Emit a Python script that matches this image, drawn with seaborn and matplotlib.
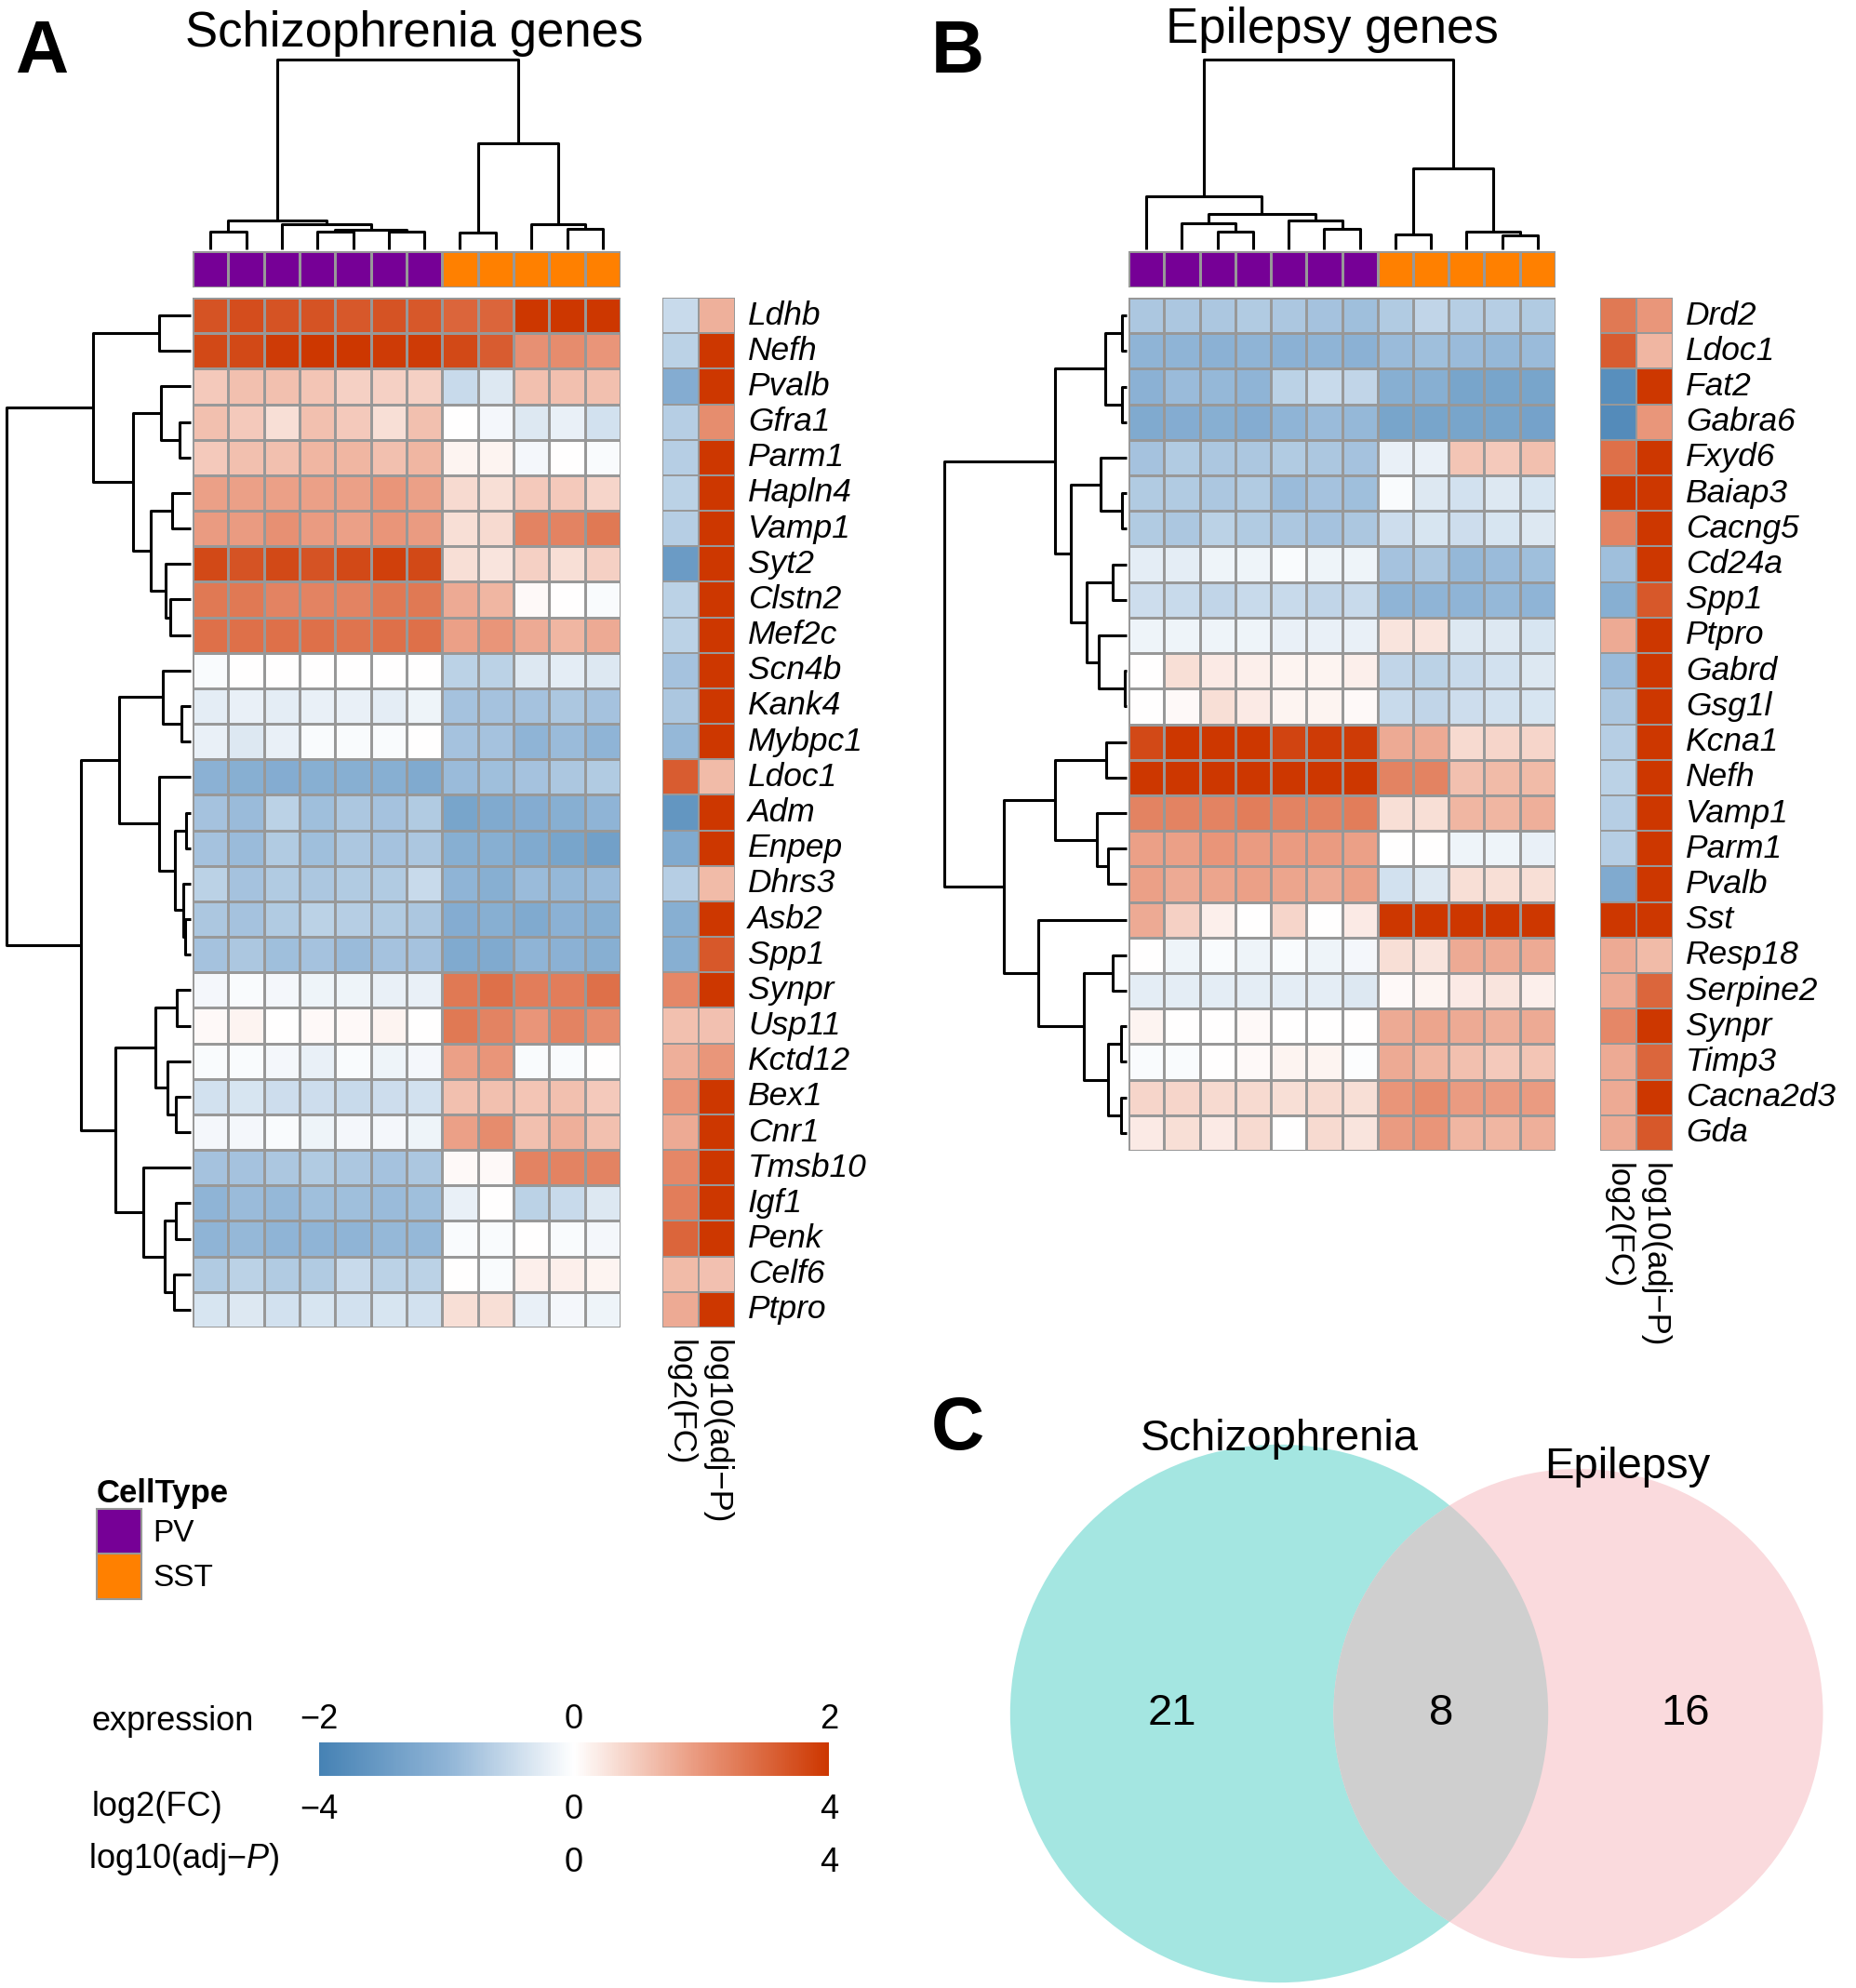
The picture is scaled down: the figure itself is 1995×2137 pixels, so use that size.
import numpy as np
import pandas as pd
import matplotlib
matplotlib.use("Agg")
import matplotlib.pyplot as plt
import matplotlib.cm as cm
import seaborn as sns
from matplotlib.colors import LinearSegmentedColormap, ListedColormap, Normalize
from matplotlib.patches import Circle, Patch

sns.set_theme(style="white")
plt.rcParams["font.family"] = ["Liberation Sans", "DejaVu Sans"]
plt.rcParams["mathtext.fontset"] = "custom"
plt.rcParams["mathtext.rm"] = "Liberation Sans"
plt.rcParams["mathtext.it"] = "Liberation Sans:italic"
plt.rcParams.update({"text.color": "black", "axes.labelcolor": "black",
                     "xtick.color": "black", "ytick.color": "black"})

# ---------------- data ----------------
cell_type = ["PV", "PV", "PV", "PV", "PV", "PV", "PV", "SST", "SST", "SST", "SST", "SST"]

scz_genes = ["Ldhb", "Nefh", "Pvalb", "Gfra1", "Parm1", "Hapln4", "Vamp1", "Syt2", "Clstn2",
             "Mef2c", "Scn4b", "Kank4", "Mybpc1", "Ldoc1", "Adm", "Enpep", "Dhrs3", "Asb2",
             "Spp1", "Synpr", "Usp11", "Kctd12", "Bex1", "Cnr1", "Tmsb10", "Igf1", "Penk",
             "Celf6", "Ptpro"]
scz_expr = [
    [1.7, 1.75, 1.7, 1.7, 1.65, 1.7, 1.65, 1.5, 1.5, 2.0, 2.0, 2.0],
    [1.8, 1.8, 1.95, 2.0, 2.0, 1.95, 1.95, 1.8, 1.6, 1.05, 1.1, 1.0],
    [0.5, 0.6, 0.6, 0.55, 0.45, 0.45, 0.45, -0.5, -0.3, 0.6, 0.6, 0.6],
    [0.6, 0.5, 0.3, 0.6, 0.5, 0.3, 0.6, 0.0, -0.1, -0.3, -0.2, -0.4],
    [0.5, 0.6, 0.6, 0.7, 0.7, 0.6, 0.7, 0.1, 0.1, -0.1, 0.0, -0.05],
    [0.9, 0.9, 0.9, 0.9, 0.9, 1.0, 0.9, 0.35, 0.3, 0.5, 0.5, 0.4],
    [0.95, 0.95, 1.05, 0.95, 0.9, 1.0, 0.95, 0.3, 0.35, 1.2, 1.2, 1.3],
    [1.8, 1.7, 1.8, 1.7, 1.8, 1.9, 1.8, 0.3, 0.25, 0.45, 0.3, 0.45],
    [1.3, 1.3, 1.2, 1.2, 1.2, 1.3, 1.3, 0.8, 0.7, 0.05, 0.0, -0.05],
    [1.4, 1.4, 1.4, 1.4, 1.35, 1.4, 1.4, 0.9, 1.0, 0.8, 0.7, 0.8],
    [-0.05, 0.0, 0.0, 0.0, 0.0, 0.0, 0.0, -0.6, -0.6, -0.3, -0.25, -0.3],
    [-0.25, -0.2, -0.25, -0.2, -0.2, -0.25, -0.15, -0.8, -0.8, -0.8, -0.75, -0.8],
    [-0.2, -0.3, -0.2, -0.05, -0.05, -0.05, 0.0, -0.8, -0.8, -1.0, -0.9, -1.0],
    [-1.05, -1.1, -1.15, -1.1, -1.1, -1.1, -1.2, -0.9, -0.85, -0.8, -0.75, -0.7],
    [-0.8, -0.9, -0.6, -0.85, -0.75, -0.8, -0.7, -1.3, -1.2, -1.15, -1.1, -1.0],
    [-0.8, -0.9, -0.7, -0.85, -0.75, -0.8, -0.75, -1.1, -1.1, -1.2, -1.3, -1.4],
    [-0.6, -0.8, -0.7, -0.75, -0.7, -0.7, -0.5, -1.0, -1.1, -0.9, -0.95, -0.9],
    [-0.75, -0.8, -0.7, -0.6, -0.65, -0.7, -0.75, -1.15, -1.1, -1.2, -1.05, -1.1],
    [-0.8, -0.75, -0.85, -0.8, -0.9, -0.8, -0.8, -1.2, -1.2, -1.0, -1.05, -1.1],
    [-0.1, -0.05, -0.1, -0.15, -0.15, -0.2, -0.2, 1.3, 1.4, 1.25, 1.25, 1.4],
    [0.05, 0.1, 0.0, 0.05, 0.05, 0.1, 0.0, 1.3, 1.2, 1.0, 1.2, 1.1],
    [-0.05, -0.05, -0.1, -0.2, -0.05, -0.15, -0.1, 0.9, 1.0, -0.05, -0.05, 0.0],
    [-0.4, -0.35, -0.45, -0.45, -0.5, -0.45, -0.4, 0.6, 0.6, 0.55, 0.6, 0.5],
    [-0.1, -0.1, -0.05, -0.15, -0.1, -0.1, -0.15, 0.9, 1.1, 0.6, 0.75, 0.6],
    [-0.8, -0.8, -0.75, -0.7, -0.75, -0.8, -0.75, 0.05, 0.05, 1.2, 1.2, 1.2],
    [-1.0, -0.9, -0.95, -0.85, -0.85, -0.9, -0.85, -0.2, 0.0, -0.6, -0.5, -0.3],
    [-1.0, -0.95, -1.0, -1.0, -1.0, -0.95, -0.95, -0.05, -0.05, 0.0, -0.05, -0.1],
    [-0.7, -0.6, -0.7, -0.7, -0.5, -0.6, -0.6, 0.0, -0.05, 0.15, 0.15, 0.1],
    [-0.35, -0.3, -0.4, -0.35, -0.4, -0.35, -0.4, 0.3, 0.3, -0.2, -0.1, -0.15],
]
scz_log2fc = [-1.0, -1.2, -2.3, -1.3, -1.3, -1.2, -1.3, -3.0, -1.2, -1.2, -1.6, -1.5, -1.9,
              3.2, -3.2, -2.4, -1.3, -2.2, -2.2, 2.3, 1.2, 1.5, 2.0, 1.6, 2.3, 2.5, 3.0, 1.3, 1.6]
scz_log10p = [1.5, 4, 4, 2.2, 4, 4, 4, 4, 4, 4, 4, 4, 4,
              1.3, 4, 4, 1.3, 4, 3.3, 4, 1.2, 2.0, 4, 4, 4, 4, 4, 1.2, 4]

epi_genes = ["Drd2", "Ldoc1", "Fat2", "Gabra6", "Fxyd6", "Baiap3", "Cacng5", "Cd24a", "Spp1",
             "Ptpro", "Gabrd", "Gsg1l", "Kcna1", "Nefh", "Vamp1", "Parm1", "Pvalb", "Sst",
             "Resp18", "Serpine2", "Synpr", "Timp3", "Cacna2d3", "Gda"]
epi_expr = [
    [-0.75, -0.75, -0.75, -0.7, -0.75, -0.8, -0.85, -0.7, -0.55, -0.65, -0.65, -0.7],
    [-1.0, -1.0, -1.05, -1.0, -1.05, -1.0, -1.05, -0.9, -0.85, -0.9, -0.95, -0.9],
    [-1.05, -0.9, -0.95, -1.0, -0.6, -0.5, -0.55, -1.1, -1.1, -1.3, -1.3, -1.3],
    [-1.2, -1.15, -1.1, -1.15, -1.0, -0.9, -0.95, -1.3, -1.3, -1.3, -1.3, -1.35],
    [-0.8, -0.7, -0.75, -0.75, -0.7, -0.75, -0.8, -0.2, -0.2, 0.55, 0.5, 0.6],
    [-0.7, -0.7, -0.75, -0.7, -0.9, -0.8, -0.85, -0.05, -0.3, -0.4, -0.3, -0.35],
    [-0.7, -0.75, -0.6, -0.7, -0.75, -0.8, -0.75, -0.45, -0.35, -0.45, -0.35, -0.3],
    [-0.25, -0.25, -0.15, -0.15, -0.05, -0.15, -0.15, -0.8, -0.75, -0.95, -0.9, -0.85],
    [-0.45, -0.5, -0.55, -0.5, -0.5, -0.55, -0.5, -1.0, -1.0, -1.0, -0.95, -1.0],
    [-0.15, -0.15, -0.15, -0.15, -0.2, -0.2, -0.2, 0.25, 0.25, -0.3, -0.3, -0.35],
    [0.0, 0.3, 0.2, 0.15, 0.1, 0.1, 0.15, -0.55, -0.6, -0.5, -0.4, -0.3],
    [0.0, 0.05, 0.3, 0.2, 0.1, 0.1, 0.05, -0.5, -0.55, -0.45, -0.4, -0.35],
    [1.8, 2.0, 2.0, 2.0, 1.85, 1.95, 1.95, 0.8, 0.8, 0.35, 0.4, 0.4],
    [2.0, 2.0, 2.0, 2.0, 2.0, 2.0, 2.0, 1.2, 1.2, 0.6, 0.65, 0.65],
    [1.2, 1.2, 1.2, 1.25, 1.2, 1.2, 1.25, 0.3, 0.3, 0.7, 0.7, 0.75],
    [0.9, 0.9, 1.0, 0.95, 0.95, 0.95, 0.9, 0.0, 0.0, -0.15, -0.15, -0.2],
    [0.9, 0.8, 0.85, 0.9, 0.85, 0.8, 0.9, -0.4, -0.3, 0.3, 0.3, 0.3],
    [0.8, 0.45, 0.15, 0.0, 0.4, 0.0, 0.2, 2.0, 2.0, 2.0, 2.0, 2.0],
    [0.0, -0.15, -0.05, -0.15, -0.05, -0.15, -0.1, 0.3, 0.25, 0.8, 0.8, 0.8],
    [-0.25, -0.25, -0.25, -0.25, -0.25, -0.25, -0.3, 0.05, 0.1, 0.2, 0.25, 0.15],
    [0.1, 0.0, 0.0, 0.05, 0.0, 0.0, 0.0, 0.8, 0.85, 0.8, 0.75, 0.8],
    [-0.05, -0.05, 0.0, 0.05, 0.1, 0.1, -0.02, 0.8, 0.7, 0.6, 0.5, 0.55],
    [0.4, 0.4, 0.35, 0.35, 0.3, 0.35, 0.3, 1.0, 1.1, 0.95, 0.95, 0.95],
    [0.2, 0.3, 0.2, 0.35, 0.0, 0.35, 0.25, 0.95, 1.0, 0.7, 0.7, 0.75],
]
epi_log2fc = [2.6, 3.2, -3.5, -3.6, 2.8, 4.0, 2.4, -1.7, -2.2, 1.6, -1.8, -1.5,
              -1.3, -1.2, -1.3, -1.3, -2.4, 4.0, 1.6, 1.6, 2.3, 1.6, 1.6, 1.6]
epi_log10p = [2.0, 1.4, 4, 2.0, 4, 4, 4, 4, 3.3, 4, 4, 4,
              4, 4, 4, 4, 4, 4, 1.3, 3.0, 4, 3.0, 4, 3.3]

# dendrograms as nested (height, left, right); ints are leaf indices
scz_row_tree = (593,
                (315, (103, 0, 1),
                 (185, (95, 2, (35, 3, 4)), (128, (60, 5, 6), (80, 7, (65, 8, 9))))),
                (353,
                 (230, (90, 10, (30, 11, 12)),
                  (103, 13, (50, (15, 14, 15), (25, 16, (18, 17, 18))))),
                 (243, (115, (45, 19, 20), (75, 21, (47, 22, 23))),
                  (152, 24, (85, (47, 25, 26), (53, 27, 28))))))
scz_col_tree = (600,
                (92, (55, 0, 1), (80, 2, (62, (55, 3, 4), (55, 5, 6)))),
                (335, (52, 7, 8), (78, 9, (65, 10, 11))))

epi_row_tree = (585,
                (230, (70, (15, 0, 1), (15, 2, 3)),
                 (180, (85, 4, (15, 5, 6)), (128, (45, 7, 8), (90, 9, (5, 10, 11))))),
                (393, (230, (67, 12, 13), (95, 14, (60, 15, 16))),
                 (285, 17, (137, (45, 18, 19), (60, (18, 20, 21), (18, 22, 23))))))
epi_col_tree = (600,
                (168, 0, (112, (82, 1, (55, 2, 3)), (92, 4, (65, 5, 6)))),
                (255, (48, 7, 8), (55, 9, (45, 10, 11))))

venn_names = ["Schizophrenia", "Epilepsy"]
venn_only_scz = 21
venn_both = 8
venn_only_epi = 16

# ---------------- style ----------------
BLUE, RED = "#4682B4", "#CD3700"
PURPLE, ORANGE = "#760096", "#FF8000"
GRID = "#989898"
cmap_expr = LinearSegmentedColormap.from_list(
    "expr", [(0.0, BLUE), (0.25, "#8FB4D6"), (0.5, "#FFFFFF"), (0.75, "#E9967A"), (1.0, RED)])
cmap_p = LinearSegmentedColormap.from_list("pval", [(0.0, "#FFFFFF"), (0.5, "#E9967A"), (1.0, RED)])
cmap_cell = ListedColormap([PURPLE, ORANGE])

W, H = 1995, 2137
fig = plt.figure(figsize=(W / 100, H / 100), dpi=100, facecolor="white")


def box(x0, y0, x1, y1):
    """Axes placed by pixel edges (top-left origin)."""
    return fig.add_axes([x0 / W, 1 - y1 / H, (x1 - x0) / W, (y1 - y0) / H])


def draw_tree(ax, node, rows):
    if isinstance(node, int):
        return node + 0.5, 0.0
    h, left, right = node
    p1, h1 = draw_tree(ax, left, rows)
    p2, h2 = draw_tree(ax, right, rows)
    pos, hts = [p1, p1, p2, p2], [h1, h, h, h2]
    if rows:
        ax.plot(hts, pos, color="black", lw=2.2, solid_capstyle="butt", clip_on=False)
    else:
        ax.plot(pos, hts, color="black", lw=2.2, solid_capstyle="butt", clip_on=False)
    return (p1 + p2) / 2, h


def draw_panel(genes, expr, log2fc, log10p, row_tree, col_tree,
               dend_x0, hm_x0, hm_x1, ann_x0, ann_x1, hm_y1):
    n = len(genes)
    # column dendrogram
    ax = box(hm_x0, 64, hm_x1, 268)
    draw_tree(ax, col_tree, rows=False)
    ax.set_xlim(0, len(cell_type))
    ax.set_ylim(0, col_tree[0])
    ax.axis("off")

    # cell type bar
    ax = box(hm_x0, 270, hm_x1, 309)
    codes = [[0 if c == "PV" else 1 for c in cell_type]]
    sns.heatmap(codes, cmap=cmap_cell, vmin=0, vmax=1, cbar=False, linewidths=1.8,
                linecolor=GRID, xticklabels=False, yticklabels=False, ax=ax)

    # row dendrogram
    ax = box(dend_x0, 320, hm_x0 - 2, hm_y1)
    draw_tree(ax, row_tree, rows=True)
    ax.set_xlim(row_tree[0], 0)
    ax.set_ylim(n, 0)
    ax.axis("off")

    # expression heatmap
    ax = box(hm_x0, 320, hm_x1, hm_y1)
    df = pd.DataFrame(expr, index=genes)
    sns.heatmap(df, cmap=cmap_expr, vmin=-2, vmax=2, cbar=False, linewidths=1.8,
                linecolor=GRID, xticklabels=False, yticklabels=False, ax=ax)

    # row annotation: log2 fold change + adjusted p
    ax = box(ann_x0, 320, ann_x1, hm_y1)
    ann = pd.DataFrame({"log2(FC)": log2fc, "log10(adj\u2212P)": log10p}, index=genes)
    mask_fc = np.zeros(ann.shape, dtype=bool)
    mask_fc[:, 1] = True
    sns.heatmap(ann, mask=mask_fc, cmap=cmap_expr, vmin=-4, vmax=4, cbar=False,
                linewidths=1.2, linecolor=GRID, ax=ax)
    sns.heatmap(ann, mask=~mask_fc, cmap=cmap_p, vmin=0, vmax=4, cbar=False,
                linewidths=1.2, linecolor=GRID, ax=ax)
    ax.yaxis.tick_right()
    ax.tick_params(axis="y", length=0, pad=10, labelsize=25.5, labelrotation=0)
    ax.tick_params(axis="x", length=0, pad=9, labelsize=25, labelrotation=270)
    for t in ax.get_yticklabels():
        t.set_fontstyle("italic")
        t.set_va("center")
    for t in ax.get_xticklabels():
        t.set_va("top")
        t.set_ha("center")


draw_panel(scz_genes, scz_expr, scz_log2fc, scz_log10p, scz_row_tree, scz_col_tree,
           7, 207, 667, 712, 790, 1427)
draw_panel(epi_genes, epi_expr, epi_log2fc, epi_log10p, epi_row_tree, epi_col_tree,
           1015, 1213, 1672, 1720, 1798, 1237)

# titles and panel letters
fig.text(445 / W, 1 - 50 / H, "Schizophrenia genes", ha="center", va="baseline", fontsize=38)
fig.text(1432 / W, 1 - 46 / H, "Epilepsy genes", ha="center", va="baseline", fontsize=38)
for letter, x, y in [("A", 16, 78), ("B", 1001, 78), ("C", 1001, 1558)]:
    fig.text(x / W, 1 - y / H, letter, fontsize=57, fontweight="bold", va="baseline")

# cell type legend
handles = [Patch(facecolor=PURPLE, edgecolor=GRID, lw=1.5, label="PV"),
           Patch(facecolor=ORANGE, edgecolor=GRID, lw=1.5, label="SST")]
fig.legend(handles=handles, title="CellType", loc="upper left",
           bbox_to_anchor=(104 / W, 1 - 1589 / H), frameon=False, fontsize=24,
           title_fontproperties={"weight": "bold", "size": 25}, alignment="left",
           handlelength=1.45, handleheight=1.85, labelspacing=0, handletextpad=0.35,
           borderpad=0, borderaxespad=0)

# colour legend
cax = box(343, 1873, 891, 1909)
cb = fig.colorbar(cm.ScalarMappable(Normalize(-2, 2), cmap_expr), cax=cax,
                  orientation="horizontal")
cb.outline.set_visible(False)
cax.xaxis.set_ticks_position("top")
cax.set_xticks([-2, 0, 2])
cax.tick_params(axis="x", length=0, pad=5, labelsize=26)
fc_ax = cax.secondary_xaxis(0.0, functions=(lambda v: v * 2, lambda v: v / 2))
fc_ax.set_xticks([-4, 0, 4])
p_ax = cax.secondary_xaxis(-1.56, functions=(lambda v: v * 2, lambda v: v / 2))
p_ax.set_xticks([0, 4])
for sec in (fc_ax, p_ax):
    sec.spines["bottom"].set_visible(False)
    sec.tick_params(axis="x", length=0, pad=14, labelsize=26)
fig.text(99 / W, 1 - 1850 / H, "expression", va="center", fontsize=26)
fig.text(99 / W, 1 - 1943 / H, "log2(FC)", va="center", fontsize=26)
fig.text(95 / W, 1 - 1999 / H, "log10(adj\u2212$P$)", va="center", fontsize=26)

# Venn diagram (area proportional)
ax = box(1000, 1470, 1995, 2137)
ax.set_xlim(1000, 1995)
ax.set_ylim(2137, 1470)
ax.axis("off")
n_scz = venn_only_scz + venn_both
n_epi = venn_only_epi + venn_both
k = 53.7
r1, r2 = k * np.sqrt(n_scz), k * np.sqrt(n_epi)


def lens_area(d, ra, rb):
    a1 = ra ** 2 * np.arccos((d ** 2 + ra ** 2 - rb ** 2) / (2 * d * ra))
    a2 = rb ** 2 * np.arccos((d ** 2 + rb ** 2 - ra ** 2) / (2 * d * rb))
    tri = 0.5 * np.sqrt((-d + ra + rb) * (d + ra - rb) * (d - ra + rb) * (d + ra + rb))
    return a1 + a2 - tri


target = np.pi * r1 ** 2 * venn_both / n_scz
lo, hi = abs(r1 - r2) + 1e-6, r1 + r2 - 1e-6
for _ in range(80):
    mid = (lo + hi) / 2
    if lens_area(mid, r1, r2) > target:
        lo = mid
    else:
        hi = mid
cx1, cy = 1375, 1842
cx2 = cx1 + (lo + hi) / 2

c_scz = Circle((cx1, cy), r1, facecolor="#A4E6E1", edgecolor="none")
c_epi = Circle((cx2, cy), r2, facecolor="#FADADD", edgecolor="none")
c_mid = Circle((cx2, cy), r2, facecolor="#CFCFCF", edgecolor="none")
ax.add_patch(c_scz)
ax.add_patch(c_epi)
ax.add_patch(c_mid)
c_mid.set_clip_path(c_scz)

ax.text(((cx1 - r1) + (cx2 - r2)) / 2, cy, str(venn_only_scz), ha="center", va="center", fontsize=34)
ax.text(((cx2 - r2) + (cx1 + r1)) / 2, cy, str(venn_both), ha="center", va="center", fontsize=34)
ax.text(((cx1 + r1) + (cx2 + r2)) / 2, cy, str(venn_only_epi), ha="center", va="center", fontsize=34)
ax.text(cx1, cy - r1 + 6, venn_names[0], ha="center", va="baseline", fontsize=34)
ax.text(cx2 + 0.2 * r2, cy - r2 + 10, venn_names[1], ha="center", va="baseline", fontsize=34)

fig.savefig("out.png", dpi=100, facecolor="white")
